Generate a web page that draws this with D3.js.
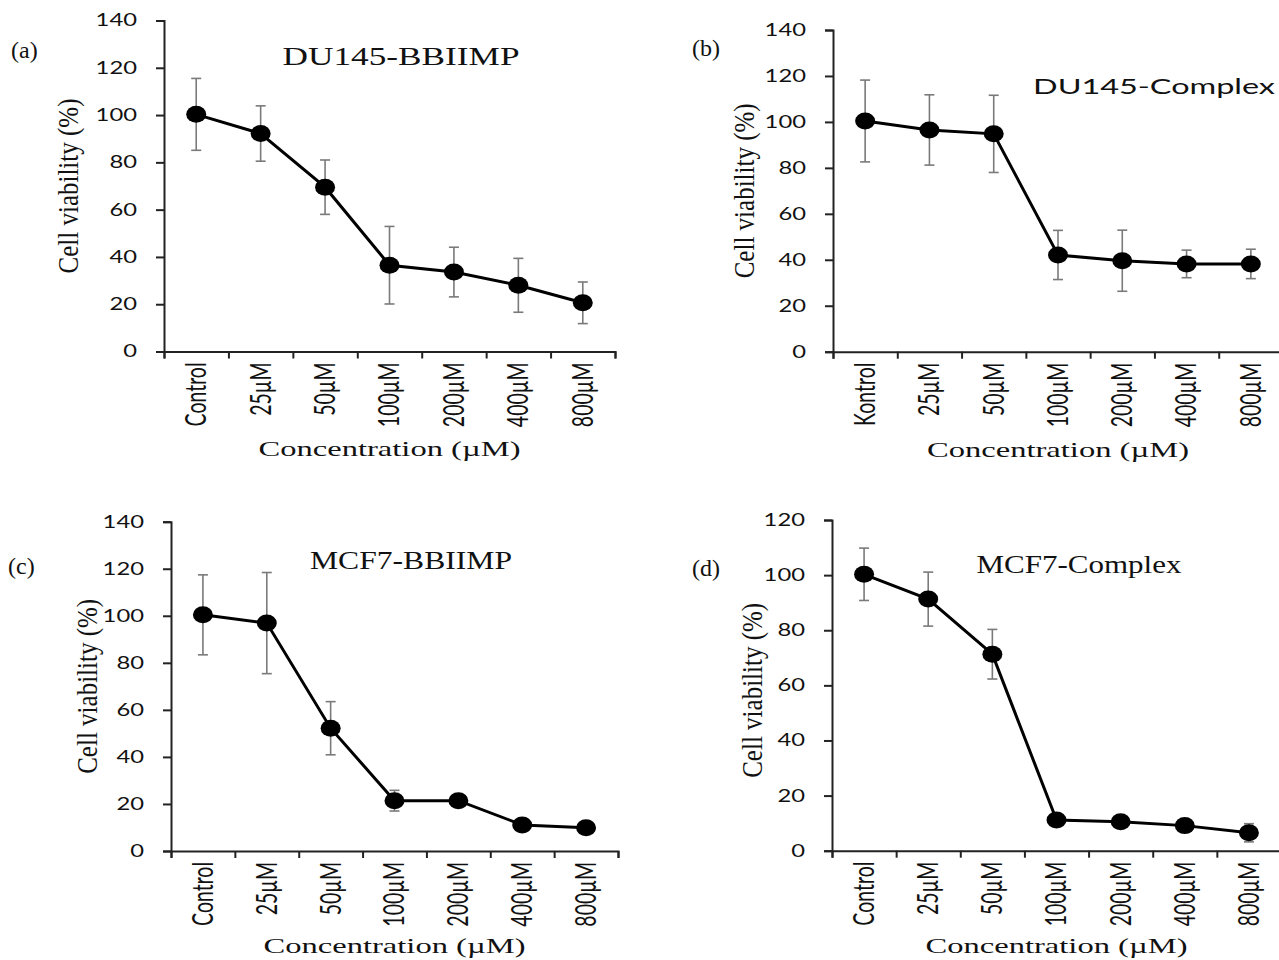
<!DOCTYPE html>
<html lang="en">
<head>
<meta charset="UTF-8">
<title>Cell viability</title>
<script src="https://cdn.jsdelivr.net/npm/d3@7"></script>
<style>
  body { margin: 0; background: #fff; }
  svg { display: block; }
  .serif { font-family: "Liberation Serif", "Times New Roman", serif; fill: #111; }
  .sans { font-family: Lato, "Open Sans", sans-serif; fill: #111; }
</style>
</head>
<body>
<script>
// categories
var concControl = ['Control', '25µM', '50µM', '100µM', '200µM', '400µM', '800µM'];
var concKontrol = ['Kontrol', '25µM', '50µM', '100µM', '200µM', '400µM', '800µM'];

// mean cell viability (%) and error (+/-)
var du145Bbiimp = [100.3, 92.2, 69.5, 36.5, 33.6, 28.0, 20.6];
var du145BbiimpErr = [15.2, 11.7, 11.5, 16.4, 10.5, 11.4, 8.8];
var du145Complex = [100.4, 96.5, 94.8, 42.1, 39.6, 38.2, 38.2];
var du145ComplexErr = [17.8, 15.3, 16.8, 10.7, 13.3, 6.0, 6.4];
var mcf7Bbiimp = [100.4, 96.9, 52.2, 21.4, 21.4, 11.1, 9.9];
var mcf7BbiimpErr = [17.0, 21.5, 11.3, 4.4, 2.6, 1.2, 0.8];
var mcf7Complex = [100.3, 91.3, 71.3, 11.1, 10.5, 9.1, 6.5];
var mcf7ComplexErr = [9.5, 9.8, 9.0, 0.6, 0.5, 0.6, 3.3];

// y axis ticks
var yTicks140 = [0, 20, 40, 60, 80, 100, 120, 140];
var yTicks120 = [0, 20, 40, 60, 80, 100, 120];

var titles = ['DU145-BBIIMP', 'DU145-Complex', 'MCF7-BBIIMP', 'MCF7-Complex'];
var panelLetters = ['(a)', '(b)', '(c)', '(d)'];

var width = 1279, height = 960;
var sx = 1.4; // the figure is stretched horizontally

var svg = d3.select('body').append('svg')
    .attr('width', width)
    .attr('height', height);

// layout of each panel
var panels = [
    { cats: concControl, vals: du145Bbiimp, errs: du145BbiimpErr, ticks: yTicks140,
      x0: 164, x1: 615, yTop: 20.5, y0: 351.5,
      title: titles[0], tx: 401, ty: 65, tw: 237, tFont: 'serif', tSize: 26,
      letter: panelLetters[0], lx: 11, ly: 58, ylx: 67, xly: 456 },
    { cats: concKontrol, vals: du145Complex, errs: du145ComplexErr, ticks: yTicks140,
      x0: 833, x1: 1283, yTop: 30, y0: 351.7,
      title: titles[1], tx: 1154, ty: 94, tw: 242, tFont: 'sans', tSize: 22,
      letter: panelLetters[1], lx: 692, ly: 56, ylx: 743, xly: 457 },
    { cats: concControl, vals: mcf7Bbiimp, errs: mcf7BbiimpErr, ticks: yTicks140,
      x0: 171, x1: 618, yTop: 521.7, y0: 851,
      title: titles[2], tx: 411, ty: 569, tw: 202, tFont: 'serif', tSize: 26,
      letter: panelLetters[2], lx: 8, ly: 574, ylx: 86, xly: 953 },
    { cats: concControl, vals: mcf7Complex, errs: mcf7ComplexErr, ticks: yTicks120,
      x0: 832, x1: 1281, yTop: 520, y0: 850.7,
      title: titles[3], tx: 1079, ty: 573, tw: 205, tFont: 'serif', tSize: 25,
      letter: panelLetters[3], lx: 692, ly: 576, ylx: 751, xly: 953 }
];

panels.forEach(function(p) {
    var g = svg.append('g');
    var ymax = d3.max(p.ticks);

    var x = d3.scaleBand().domain(p.cats).range([p.x0, p.x1]).padding(0);
    var xEdge = d3.scaleLinear().domain([0, p.cats.length]).range([p.x0, p.x1]);
    var y = d3.scaleLinear().domain([0, ymax]).range([p.y0, p.yTop]);
    var cx = function(d, i) { return x(p.cats[i]) + x.bandwidth() / 2; };

    // y axis
    var yAxis = g.append('g')
        .attr('transform', 'translate(' + p.x0 + ',0)')
        .call(d3.axisLeft(y).tickValues(p.ticks).tickSize(8).tickPadding(19));
    yAxis.select('.domain').attr('stroke', '#222').attr('stroke-width', 2);
    yAxis.selectAll('.tick line').attr('stroke', '#222').attr('stroke-width', 2);
    yAxis.selectAll('.tick text')
        .attr('class', 'sans')
        .attr('font-size', 17)
        .attr('x', -27 / sx)
        .attr('transform', 'scale(' + sx + ',1)');

    // x axis: ticks on band edges
    var xAxis = g.append('g')
        .attr('transform', 'translate(0,' + p.y0 + ')')
        .call(d3.axisBottom(xEdge).tickValues(d3.range(0, p.cats.length + 1)).tickSize(7).tickFormat(''));
    xAxis.select('.domain').attr('stroke', '#222').attr('stroke-width', 2);
    xAxis.selectAll('.tick line').attr('stroke', '#222').attr('stroke-width', 2);

    // x tick labels, rotated
    g.selectAll('text.xlab')
        .data(p.cats)
        .enter()
        .append('text')
        .attr('class', 'sans')
        .attr('font-size', 19.5)
        .attr('text-anchor', 'end')
        .attr('dy', '0.35em')
        .attr('transform', function(d) {
            return 'translate(' + (x(d) + x.bandwidth() / 2) + ',' + (p.y0 + 11) + ') scale(1.45,1) rotate(-90)';
        })
        .text(function(d) { return d; });

    // error bars
    var eb = g.append('g').attr('stroke', '#7a7a7a').attr('stroke-width', 1.6).attr('fill', 'none');
    p.vals.forEach(function(v, i) {
        var c = cx(v, i), hi = y(v + p.errs[i]), lo = y(v - p.errs[i]);
        eb.append('line').attr('x1', c).attr('x2', c).attr('y1', hi).attr('y2', lo);
        eb.append('line').attr('x1', c - 5).attr('x2', c + 5).attr('y1', hi).attr('y2', hi);
        eb.append('line').attr('x1', c - 5).attr('x2', c + 5).attr('y1', lo).attr('y2', lo);
    });

    // line
    var line = d3.line()
        .x(function(d, i) { return cx(d, i); })
        .y(function(d) { return y(d); });
    g.append('path')
        .datum(p.vals)
        .attr('d', line)
        .attr('fill', 'none')
        .attr('stroke', '#000')
        .attr('stroke-width', 3);

    // markers
    g.selectAll('ellipse')
        .data(p.vals)
        .enter()
        .append('ellipse')
        .attr('cx', function(d, i) { return cx(d, i); })
        .attr('cy', function(d) { return y(d); })
        .attr('rx', 10)
        .attr('ry', 8.5)
        .attr('fill', '#000');

    // title
    g.append('text')
        .attr('class', p.tFont)
        .attr('x', p.tx)
        .attr('y', p.ty)
        .attr('font-size', p.tSize)
        .attr('text-anchor', 'middle')
        .attr('textLength', p.tw)
        .attr('lengthAdjust', 'spacingAndGlyphs')
        .text(p.title);

    // panel letter
    g.append('text')
        .attr('class', 'serif')
        .attr('x', p.lx)
        .attr('y', p.ly)
        .attr('font-size', 24)
        .text(p.letter);

    // y axis label
    g.append('text')
        .attr('class', 'serif')
        .attr('font-size', 25)
        .attr('text-anchor', 'middle')
        .attr('dy', '0.35em')
        .attr('transform', 'translate(' + p.ylx + ',' + ((p.y0 + y(ymax)) / 2 + (ymax === 120 ? 5 : 0)) + ') scale(1.2,1) rotate(-90)')
        .text('Cell viability (%)');

    // x axis label
    g.append('text')
        .attr('class', 'serif')
        .attr('font-size', 22)
        .attr('x', (p.x0 + p.x1) / 2)
        .attr('y', p.xly)
        .attr('text-anchor', 'middle')
        .attr('textLength', 262)
        .attr('lengthAdjust', 'spacingAndGlyphs')
        .text('Concentration (µM)');
});
</script>
</body>
</html>
